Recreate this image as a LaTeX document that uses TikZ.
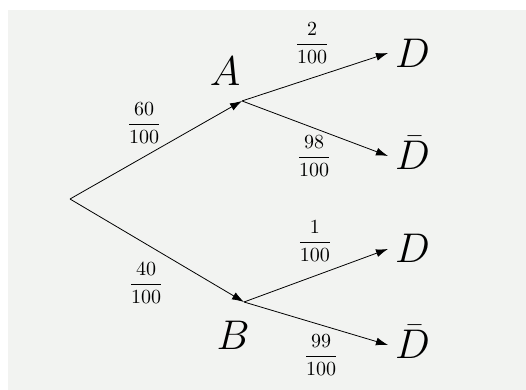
\documentclass[tikz,border=0pt]{standalone}
\usepackage{amsmath,amssymb}
\usepackage{tikz}
\usetikzlibrary{arrows.meta,positioning}
\definecolor{bggray}{RGB}{242,243,241}

\begin{document}
\begin{tikzpicture}[scale=1,
    branch/.style={-{Latex[length=6pt,width=4pt]}},
    event/.style={font=\huge},
    leaf/.style={font=\huge,anchor=west,text height=14pt,text depth=0pt},
    prob/.style={inner sep=1pt}]
  \useasboundingbox (0,0) rectangle (9.243,6.853);
  \fill[bggray] (0.141,0) rectangle (9.243,6.678);
  % branching points
  \coordinate (o) at (1.230,3.356);
  \coordinate (a) at (4.253,5.079);
  \coordinate (b) at (4.288,1.546);
  \node[event] (labA) at (3.954,5.597) {$A$};
  \node[event] (labB) at (4.094,0.958) {$B$};
  % outcomes
  \node[leaf] (d1) at (6.818,5.921) {$D$};
  \node[leaf] (nd1) at (6.818,4.112) {$\bar{D}$};
  \node[leaf] (d2) at (6.818,2.478) {$D$};
  \node[leaf] (nd2) at (6.818,0.791) {$\bar{D}$};
  \draw[branch] (o) -- (a);
  \draw[branch] (o) -- (b);
  \draw[branch] (a) -- (d1.west);
  \draw[branch] (a) -- (nd1.west);
  \draw[branch] (b) -- (d2.west);
  \draw[branch] (b) -- (nd2.west);
  % probabilities
  \node[prob] (p60) at (2.531,4.692) {$\dfrac{60}{100}$};
  \node[prob] (p40) at (2.566,1.880) {$\dfrac{40}{100}$};
  \node[prob] (p2) at (5.483,6.098) {$\dfrac{2}{100}$};
  \node[prob] (p98) at (5.518,4.112) {$\dfrac{98}{100}$};
  \node[prob] (p1) at (5.535,2.618) {$\dfrac{1}{100}$};
  \node[prob] (p99) at (5.641,0.615) {$\dfrac{99}{100}$};
\end{tikzpicture}
\end{document}
